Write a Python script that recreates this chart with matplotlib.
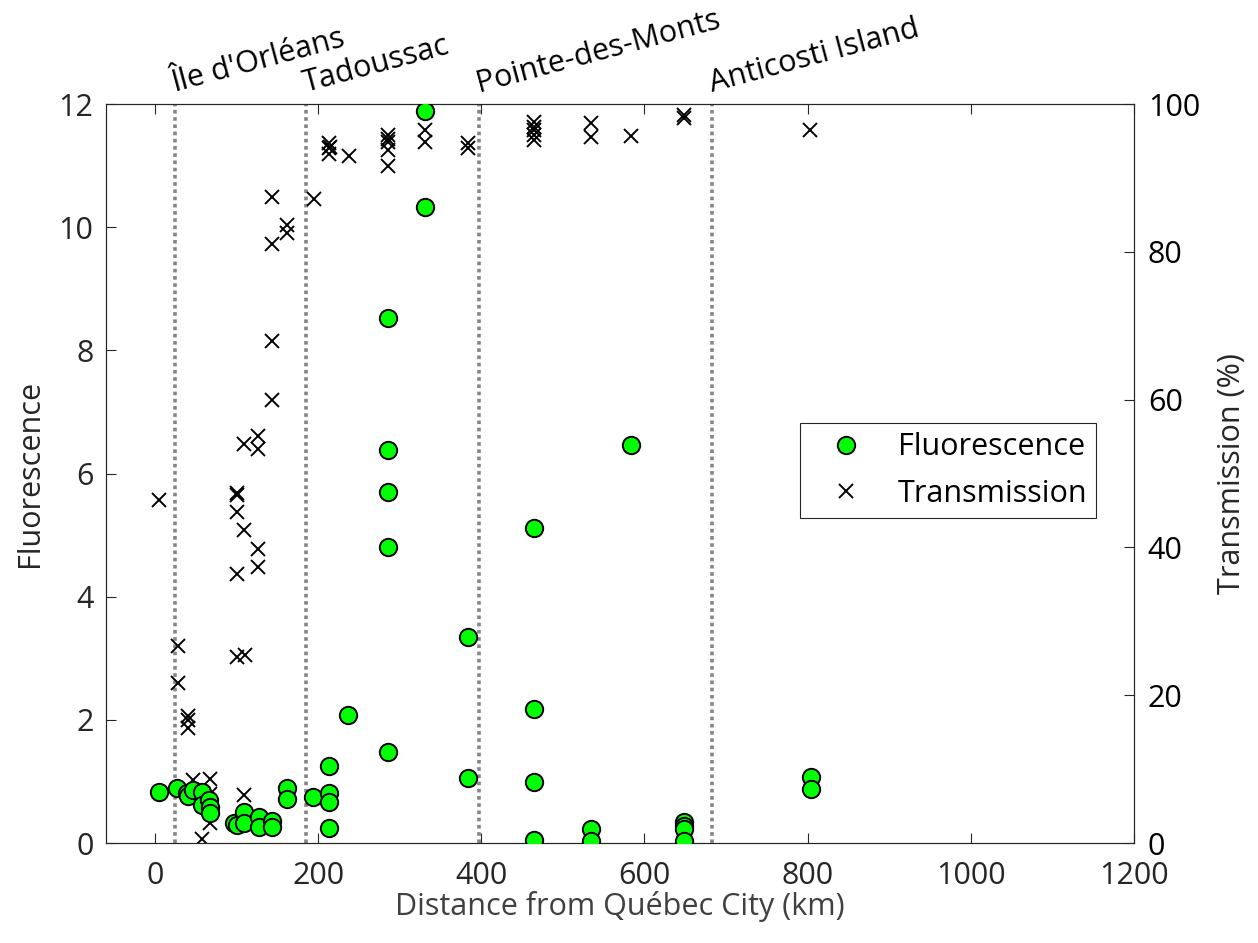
import matplotlib
matplotlib.use("Agg")
import matplotlib.pyplot as plt

plt.rcParams['font.family'] = ['Open Sans', 'DejaVu Sans']

# fluorescence samples (distance km, value)
fluo_km = [5, 27, 39, 41, 47, 58, 58, 66, 68, 68,
           97, 101, 109, 109, 127, 127, 143, 143,
           162, 162, 194, 213, 213, 213, 213, 237,
           285, 285, 285, 285, 285, 331, 331, 384, 384,
           464, 464, 464, 464, 535, 535, 584,
           649, 649, 649, 649, 804, 804]
fluo_val = [0.83, 0.89, 0.81, 0.76, 0.86, 0.83, 0.62, 0.70, 0.59, 0.48,
            0.33, 0.30, 0.51, 0.33, 0.43, 0.26, 0.36, 0.26,
            0.89, 0.71, 0.75, 1.25, 0.81, 0.67, 0.24, 2.08,
            8.53, 6.38, 5.70, 4.81, 1.48, 11.89, 10.33, 3.35, 1.05,
            5.11, 2.17, 0.99, 0.05, 0.22, 0.04, 6.46,
            0.34, 0.27, 0.22, 0.04, 1.08, 0.88]

# transmission samples (distance km, %)
trans_km = [5, 28, 28, 41, 41, 41, 47, 68, 68, 68, 58,
            101, 101, 101, 109, 126, 126, 100, 100, 110, 109,
            109, 126, 126, 143, 143, 143, 143, 162, 162, 195,
            213, 213, 213, 215, 238, 285, 285, 285, 285, 285,
            331, 331, 384, 384, 464, 464, 464, 464, 464,
            535, 535, 584, 648, 648, 803]
trans_val = [46.4, 26.6, 21.7, 17.2, 16.6, 15.5, 8.5, 8.6, 6.6, 2.7, 0.6,
             47.4, 47.1, 44.8, 42.4, 39.8, 37.4, 36.4, 25.2, 25.4, 6.5,
             54.0, 55.1, 53.3, 87.4, 81.1, 67.9, 59.9, 83.6, 82.6, 87.2,
             94.7, 94.0, 93.3, 94.2, 93.0, 95.8, 95.3, 94.9, 93.8, 91.6,
             96.5, 94.9, 94.7, 94.1, 97.6, 96.9, 96.5, 95.8, 95.1,
             97.4, 95.6, 95.7, 98.5, 98.1, 96.5]

# landmarks along the river
place_names = ["Île d'Orléans", "Tadoussac", "Pointe-des-Monts", "Anticosti Island"]
place_km = [24, 185, 397, 683]

txt = '#262626'
fs = 22

fig = plt.figure(figsize=(12.58, 9.43), dpi=100)
ax = fig.add_axes([0.0843, 0.1060, 0.8171, 0.7837])
ax2 = ax.twinx()

for km in place_km:
    ax2.axvline(km, color='#858585', lw=2.6, linestyle=(0, (1, 1)), zorder=0)

hx, = ax2.plot(trans_km, trans_val, 'x', color='black', ms=10, mew=1.4,
               label='Transmission', zorder=2)
hf, = ax.plot(fluo_km, fluo_val, 'o', mfc='#00ff00', mec='black', ms=12.5,
              mew=1.4, label='Fluorescence', zorder=3)

ax.set_zorder(ax2.get_zorder() + 1)
ax.patch.set_visible(False)

ax.set_xlim(-60, 1200)
ax.set_ylim(0, 12)
ax2.set_ylim(0, 100)
ax.set_xticks(range(0, 1201, 200))
ax.set_yticks(range(0, 13, 2))
ax2.set_yticks(range(0, 101, 20))

for a in (ax, ax2):
    for s in a.spines.values():
        s.set_color(txt)
        s.set_linewidth(0.8)
ax.tick_params(axis='x', direction='in', length=7, width=0.8, color=txt,
               labelsize=fs, labelcolor=txt, pad=13, top=True)
ax.tick_params(axis='y', direction='in', length=7, width=0.8, color=txt,
               labelsize=fs, labelcolor=txt, pad=9, right=False)
ax2.tick_params(axis='y', direction='in', length=7, width=0.8, color=txt,
                labelsize=fs, labelcolor='black', pad=10)

ax.set_xlabel('Distance from Québec City (km)', fontsize=fs, color='#404040', labelpad=0)
ax.set_ylabel('Fluorescence', fontsize=fs, color=txt, labelpad=10)
ax2.set_ylabel('Transmission (%)', fontsize=fs, color=txt, labelpad=12)

for name, km in zip(place_names, place_km):
    ax.text(km, 12.2, name, fontsize=fs, color='black', rotation=15,
            rotation_mode='anchor', ha='left', va='baseline', clip_on=False)

leg = ax.legend(handles=[hf, hx], loc='upper left', bbox_to_anchor=(0.675, 0.5683),
                fontsize=fs, frameon=True, fancybox=False, framealpha=1,
                edgecolor=txt, borderpad=0.3, handlelength=2.4,
                handletextpad=0.5, labelspacing=0.55, borderaxespad=0)
leg.get_frame().set_linewidth(0.8)

fig.savefig('out.png', dpi=100)
